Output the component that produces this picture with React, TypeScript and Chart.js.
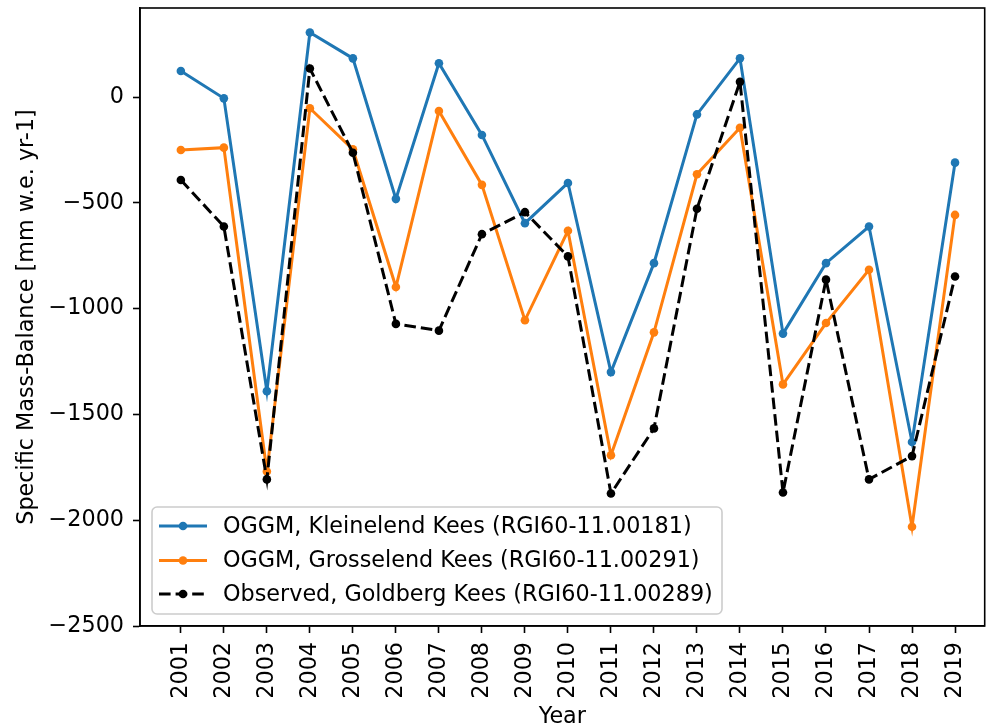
import React, { useEffect, useRef } from 'react';
import { Chart, registerables } from 'chart.js';

Chart.register(...registerables);

const years = [2001, 2002, 2003, 2004, 2005, 2006, 2007, 2008, 2009, 2010, 2011, 2012, 2013, 2014, 2015, 2016, 2017, 2018, 2019];
const kleinelend = [123, -6, -1390, 305, 183, -481, 160, -179, -596, -406, -1300, -785, -82, 183, -1118, -785, -612, -1630, -310];
const grosselend = [-250, -239, -1770, -53, -247, -898, -66, -415, -1055, -632, -1693, -1112, -365, -145, -1358, -1068, -816, -2031, -557];
const observed = [-392, -612, -1807, 135, -263, -1072, -1104, -648, -544, -753, -1874, -1566, -528, 72, -1869, -863, -1807, -1697, -848];
const yTickValues = [-2500, -2000, -1500, -1000, -500, 0];

const labels = [
  'OGGM, Kleinelend Kees (RGI60-11.00181)',
  'OGGM, Grosselend Kees (RGI60-11.00291)',
  'Observed, Goldberg Kees (RGI60-11.00289)',
];

const FONT = 'DejaVu Sans';
const FS = 22.3;
const DASH = [11.6, 5];

const framePlugin = {
  id: 'frame',
  afterDatasetsDraw(chart: any) {
    const { ctx, chartArea: a } = chart;
    ctx.save();
    ctx.strokeStyle = '#000';
    ctx.lineWidth = 1.6;
    ctx.strokeRect(a.left, a.top, a.right - a.left, a.bottom - a.top);
    ctx.restore();
  },
};

const legendPlugin = {
  id: 'mplLegend',
  afterDraw(chart: any) {
    const { ctx } = chart;
    const x0 = 152, y0 = 507, w = 570, h = 107, r = 5;
    ctx.save();
    ctx.beginPath();
    ctx.moveTo(x0 + r, y0);
    ctx.arcTo(x0 + w, y0, x0 + w, y0 + h, r);
    ctx.arcTo(x0 + w, y0 + h, x0, y0 + h, r);
    ctx.arcTo(x0, y0 + h, x0, y0, r);
    ctx.arcTo(x0, y0, x0 + w, y0, r);
    ctx.closePath();
    ctx.fillStyle = 'rgba(255,255,255,0.8)';
    ctx.fill();
    ctx.strokeStyle = '#cccccc';
    ctx.lineWidth = 1.6;
    ctx.stroke();
    const rows = [526, 560.5, 594];
    chart.data.datasets.forEach((ds: any, i: number) => {
      const y = rows[i];
      ctx.beginPath();
      ctx.setLineDash(ds.borderDash || []);
      ctx.strokeStyle = ds.borderColor;
      ctx.lineWidth = ds.borderWidth;
      ctx.moveTo(159, y);
      ctx.lineTo(207, y);
      ctx.stroke();
      ctx.setLineDash([]);
      ctx.beginPath();
      ctx.fillStyle = ds.pointBackgroundColor;
      ctx.arc(183, y, ds.pointRadius, 0, Math.PI * 2);
      ctx.fill();
      ctx.fillStyle = '#000';
      ctx.font = `${FS}px "${FONT}"`;
      ctx.textBaseline = 'middle';
      ctx.textAlign = 'left';
      ctx.fillText(ds.label, 223, y + 1);
    });
    ctx.restore();
  },
};

export default function App() {
  const ref = useRef<HTMLCanvasElement>(null);
  useEffect(() => {
    const mk = (vals: number[]) => years.map((x, i) => ({ x, y: vals[i] }));
    const chart = new Chart(ref.current as HTMLCanvasElement, {
      type: 'line',
      data: {
        datasets: [
          {
            label: labels[0], data: mk(kleinelend), borderColor: '#1f77b4', backgroundColor: '#1f77b4',
            pointBackgroundColor: '#1f77b4', borderWidth: 3, pointRadius: 4.3, pointBorderWidth: 0, order: 2,
          },
          {
            label: labels[1], data: mk(grosselend), borderColor: '#ff7f0e', backgroundColor: '#ff7f0e',
            pointBackgroundColor: '#ff7f0e', borderWidth: 3, pointRadius: 4.3, pointBorderWidth: 0, order: 1,
          },
          {
            label: labels[2], data: mk(observed), borderColor: '#000000', backgroundColor: '#000000',
            pointBackgroundColor: '#000000', borderWidth: 3, pointRadius: 4.3, pointBorderWidth: 0,
            borderDash: DASH, order: 0,
          },
        ] as any,
      },
      options: {
        animation: false,
        responsive: false,
        devicePixelRatio: 1,
        layout: { padding: { top: 8, right: 1, left: 0, bottom: 0 } },
        plugins: { legend: { display: false }, tooltip: { enabled: false } },
        elements: { line: { tension: 0 } },
        scales: {
          x: {
            type: 'linear',
            min: 2000.05,
            max: 2019.69,
            afterBuildTicks: (s: any) => { s.ticks = years.map((v) => ({ value: v })); },
            afterFit: (s: any) => { s.height = 101; s.paddingLeft = 0; s.paddingRight = 0; },
            ticks: {
              autoSkip: false, minRotation: 90, maxRotation: 90, padding: 9, color: '#000',
              font: { family: FONT, size: FS },
              callback: (v: any) => String(v),
            },
            grid: { display: true, drawOnChartArea: false, drawTicks: true, tickLength: 7, tickWidth: 1.6, tickColor: '#000' },
            border: { display: true, color: '#000', width: 1.6 },
            title: { display: true, text: 'Year', color: '#000', font: { family: FONT, size: FS, lineHeight: 1.2 }, padding: { top: 0, bottom: -4 } },
          },
          y: {
            type: 'linear',
            min: -2500,
            max: 421,
            afterBuildTicks: (s: any) => { s.ticks = yTickValues.map((v) => ({ value: v })); },
            afterFit: (s: any) => { s.width = 140; s.paddingTop = 0; s.paddingBottom = 0; },
            ticks: {
              padding: 9, color: '#000',
              font: { family: FONT, size: FS },
              callback: (v: any) => (v < 0 ? '\u2212' + Math.abs(v) : String(v)),
            },
            grid: { display: true, drawOnChartArea: false, drawTicks: true, tickLength: 7, tickWidth: 1.6, tickColor: '#000' },
            border: { display: true, color: '#000', width: 1.6 },
            title: { display: true, text: 'Specific Mass-Balance [mm w.e. yr-1]', color: '#000', font: { family: FONT, size: FS, lineHeight: 1.2 }, padding: { top: 14, bottom: 0 } },
          },
        },
      } as any,
      plugins: [framePlugin, legendPlugin],
    });
    return () => chart.destroy();
  }, []);
  return (
    <div style={{ position: 'absolute', left: 0, top: 0, width: 989, height: 727 }}>
      <canvas ref={ref} width={989} height={727} style={{ display: 'block' }} />
    </div>
  );
}
